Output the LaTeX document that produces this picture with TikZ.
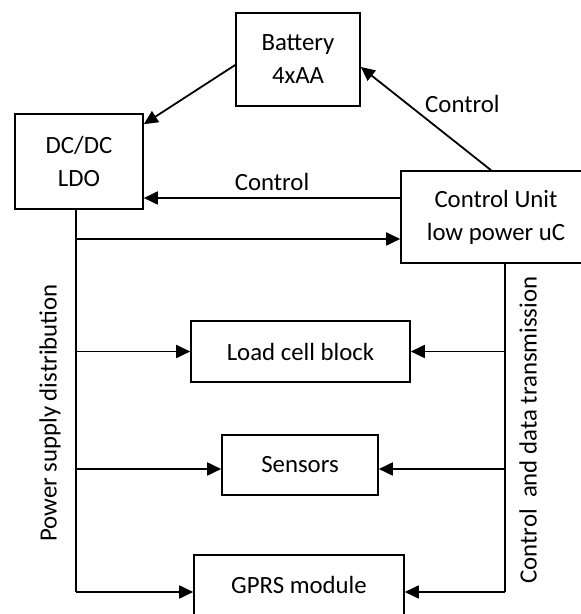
\documentclass[tikz,border=0pt]{standalone}
\usepackage{fontspec}
\setmainfont{Carlito}
\usetikzlibrary{arrows.meta,positioning}

\begin{document}
\begin{tikzpicture}[x=0.5pt,y=0.5pt,>={Triangle[length=7pt,width=6.5pt]},
  blk/.style={draw, line width=0.8pt, align=center, inner sep=0pt},
  wire/.style={->, line width=0.9pt},
  bus/.style={line width=0.9pt},
  every node/.style={font=\fontsize{12.4}{16.5}\selectfont}]
\useasboundingbox (0,0) rectangle (581,614);
\clip (0,0) rectangle (581,614);
\node (bat) [blk, minimum width=62pt, minimum height=46.5pt] at (298,554.5) {Battery\\4xAA};
\node (dc) [blk, minimum width=64pt, minimum height=47.5pt] at (79,452.5) {DC/DC\\LDO};
\node (cu) [blk, minimum width=95pt, minimum height=46pt] at (496,397) {Control Unit\\low power uC};
\node (load) [blk, minimum width=109.5pt, minimum height=30.5pt] at (300.5,262.5) {Load cell block};
\node (sens) [blk, minimum width=78pt, minimum height=30pt] at (300,149) {Sensors};
\node (gprs) [blk, minimum width=105pt, minimum height=30pt] at (299,29) {GPRS module};
\coordinate (lbot) at (76,22);
\coordinate (rbot) at (505,22);
\draw[wire] ([yshift=-2.75pt]bat.west) -- ([yshift=-5.5pt]dc.north east);
\draw[wire] ([xshift=-2.5pt]cu.north) -- node[pos=0.64, right=5pt] {Control} ([yshift=-3.75pt]bat.east);
\draw[wire] ([yshift=9.5pt]cu.west) -- node[above] {Control} ([yshift=9.5pt]cu.west -| dc.east);
\draw[bus] (dc.south -| lbot) -- (lbot);
\draw[wire] ([yshift=-11pt]cu.west -| lbot) -- ([yshift=-11pt]cu.west);
\draw[wire] (load.west -| lbot) -- (load.west);
\draw[wire] ([yshift=-2pt]sens.west -| lbot) -- ([yshift=-2pt]sens.west);
\draw[wire] (lbot) -- (lbot -| gprs.west);
\draw[bus] (cu.south -| rbot) -- (rbot);
\draw[wire] (load.east -| rbot) -- (load.east);
\draw[wire] ([yshift=-2pt]sens.east -| rbot) -- ([yshift=-2pt]sens.east);
\draw[wire] (rbot) -- (rbot -| gprs.east);
\node (psd) [rotate=90] at (50,201) {Power supply distribution};
\node (cdt) [rotate=90] at (528,184) {Control\ \ and data transmission};
\end{tikzpicture}
\end{document}
